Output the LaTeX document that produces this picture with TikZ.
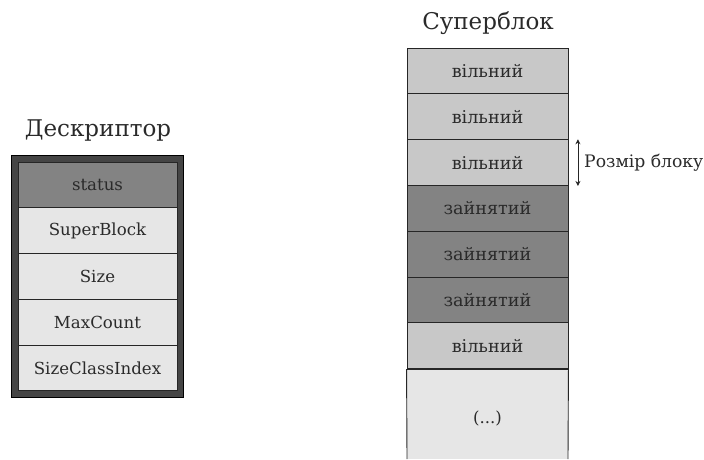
\documentclass[tikz,border=0pt]{standalone}
\usepackage{fontspec}
\setmainfont{DejaVu Serif}
\usetikzlibrary{arrows.meta}
\definecolor{txt}{HTML}{2A2A2A}
\definecolor{frameband}{HTML}{454545}
\definecolor{darkcell}{HTML}{838383}
\definecolor{freecell}{HTML}{C8C8C8}
\definecolor{lightcell}{HTML}{E6E6E6}
\tikzset{
  cellfont/.style={font=\fontsize{16.6}{18}\selectfont},
  cell/.style={draw=black!85, line width=0.9pt, minimum width=#1, minimum height=45.8pt,
    inner sep=0pt, text=txt, cellfont},
  desccell/.style={cell=159pt},
  sbcell/.style={cell=161pt, font=\fontsize{17.6}{19}\selectfont},
  title/.style={text=txt, font=\fontsize{23}{25}\selectfont, inner sep=0pt},
}
\begin{document}
\begin{tikzpicture}[x=1pt, y=-1pt]
\useasboundingbox (0,0) rectangle (704,459);

% descriptor: framed column of fields
\node[title] (desctitle) at (98,131) {Дескриптор};
\node[draw=black, line width=0.8pt, fill=frameband, minimum width=172pt, minimum height=242pt, inner sep=0pt] (descframe) at (97,276) {};
\node[desccell, fill=darkcell]  (status) at (97.5,185)   {status};
\node[desccell, fill=lightcell] (sblock) at (97.5,230.6) {SuperBlock};
\node[desccell, fill=lightcell] (size)   at (97.5,276.4) {Size};
\node[desccell, fill=lightcell] (maxc)   at (97.5,322.2) {MaxCount};
\node[desccell, fill=lightcell] (sci)    at (97.5,368)   {SizeClassIndex};

% superblock: column of blocks
\node[title] (sbtitle) at (488,23) {Суперблок};
\node[sbcell, fill=freecell] (b1) at (487.5,71)    {вільний};
\node[sbcell, fill=freecell] (b2) at (487.5,116.8) {вільний};
\node[sbcell, fill=freecell] (b3) at (487.5,162.6) {вільний};
\node[sbcell, fill=darkcell] (b4) at (487.5,208.4) {зайнятий};
\node[sbcell, fill=darkcell] (b5) at (487.5,254.2) {зайнятий};
\node[sbcell, fill=darkcell] (b6) at (487.5,300)   {зайнятий};
\node[sbcell, fill=freecell] (b7) at (487.5,345.8) {вільний};
% open-ended remainder of the superblock
\coordinate (restBL) at (407,459);
\coordinate (restBR) at (568,459);
\fill[lightcell] (b7.south west) rectangle (restBR);
\draw[black!85, line width=0.9pt] (b7.south west) -- (restBL);
\draw[black!85, line width=0.9pt] (b7.south east) -- (restBR);
\draw[black!85, line width=0.9pt] (b7.south west) -- (b7.south east);
\node[text=txt, cellfont] (rest) at (487.5,418) {(...)};

% block size marker
\coordinate (szTop) at ([xshift=9.5pt]b3.north east);
\coordinate (szBot) at ([xshift=9.5pt]b3.south east);
\draw[{Stealth[length=5pt,width=5pt]}-{Stealth[length=5pt,width=5pt]}, line width=0.9pt, black!85]
  (szTop) -- (szBot);
\node[anchor=west, text=txt, font=\fontsize{17.2}{19}\selectfont, inner sep=0pt] (szlabel) at (584,163) {Розмір блоку};
\end{tikzpicture}
\end{document}
